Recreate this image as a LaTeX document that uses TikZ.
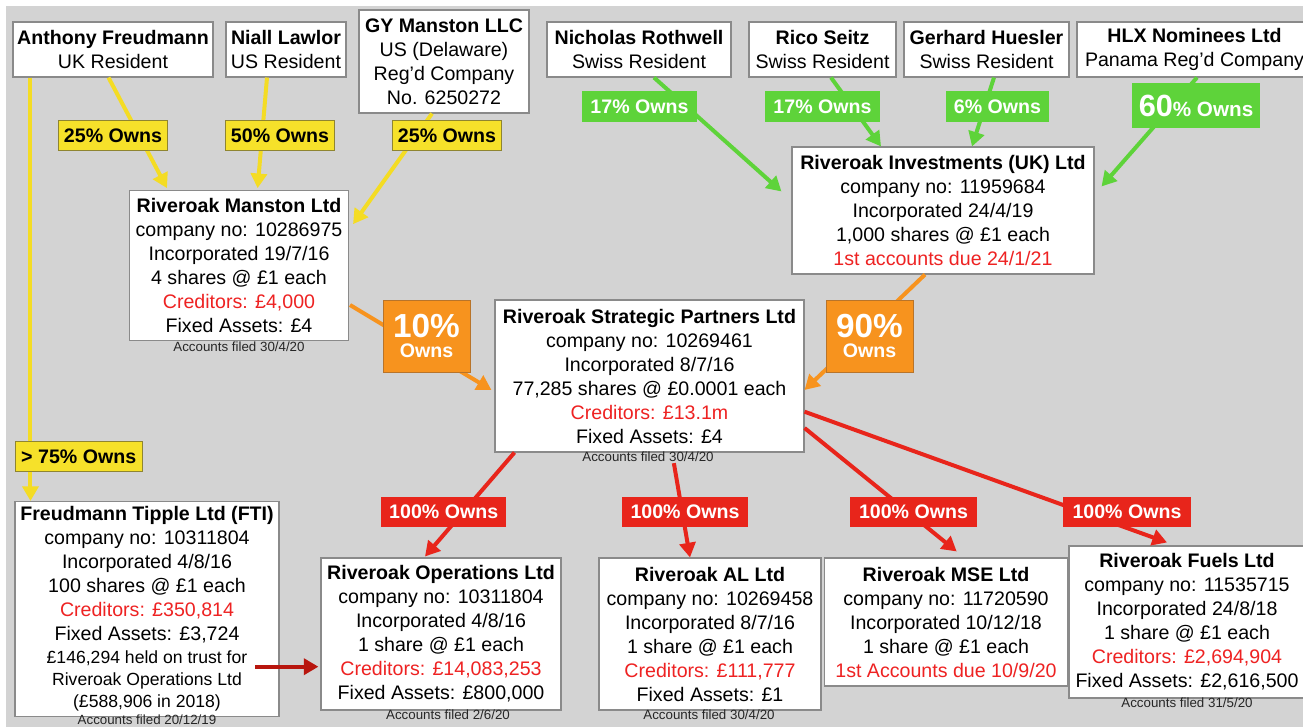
\documentclass[tikz,border=0pt]{standalone}
\usepackage{fontspec}
\setmainfont{Liberation Sans}
\usetikzlibrary{arrows.meta,calc}
\definecolor{bg}{HTML}{D3D3D3}
\definecolor{boxline}{HTML}{8A8A8A}
\definecolor{ylw}{HTML}{F6E12A}
\definecolor{ylwedge}{HTML}{8F8530}
\definecolor{ylwline}{HTML}{F4DC24}
\definecolor{grn}{HTML}{5ED33A}
\definecolor{org}{HTML}{F7931E}
\definecolor{orgedge}{HTML}{B8742A}
\definecolor{rd}{HTML}{E8251B}
\definecolor{drd}{HTML}{B8160E}
\definecolor{redtxt}{HTML}{EE2222}
\newcommand{\rt}[1]{\textcolor{redtxt}{#1}}
\begin{document}
\begin{tikzpicture}[x=0.75pt,y=-0.75pt,
  box/.style 2 args={draw=boxline, line width=0.8pt, fill=white,
    minimum width=#1*0.75pt, minimum height=#2*0.75pt, inner sep=0pt,
    align=center, font=\fontsize{14.7}{18}\selectfont},
  lab/.style 2 args={minimum width=#1*0.75pt, minimum height=#2*0.75pt,
    inner sep=0pt, align=center, font=\bfseries\fontsize{14.7}{17}\selectfont},
  ylab/.style={fill=ylw, draw=ylwedge, line width=0.6pt, text=black},
  glab/.style={fill=grn, text=white},
  olab/.style={fill=org, draw=orgedge, line width=0.6pt, text=white},
  rlab/.style={fill=rd, text=white},
  note/.style={inner sep=0pt, font=\fontsize{10}{12}\selectfont, text=black!85},
  conn/.style={line width=3pt, -{Triangle[length=11pt,width=12pt]}},
  yarr/.style={conn, draw=ylwline, fill=ylwline},
  garr/.style={conn, draw=grn, fill=grn},
  oarr/.style={conn, draw=org, fill=org},
  rarr/.style={conn, draw=rd, fill=rd},
  darr/.style={conn, draw=drd, fill=drd}]
\useasboundingbox (0,0) rectangle (1303,727);
\fill[white] (0,0) rectangle (1303,727);
\fill[bg] (6,6) rectangle (1303,727);

% top row
\node[box={200}{55}] (anth) at (113,49.5) {\textbf{Anthony Freudmann}\\UK Resident};
\node[box={120}{55}] (nia) at (286,49.5) {\textbf{Niall Lawlor}\\US Resident};
\node[box={170}{103}] (gy) at (444,61.5) {\textbf{GY Manston LLC}\\US (Delaware)\\Reg’d Company\\No. 6250272};
\node[box={184}{55}] (rot) at (639,49.5) {\textbf{Nicholas Rothwell}\\Swiss Resident};
\node[box={147}{55}] (ric) at (822.5,49.5) {\textbf{Rico Seitz}\\Swiss Resident};
\node[box={165}{55}] (ger) at (986.5,49.5) {\textbf{Gerhard Huesler}\\Swiss Resident};
\node[box={235}{55}] (hlx) at (1194.5,49.5) {\textbf{HLX Nominees Ltd}\\Panama Reg’d Company};

% companies
\node[box={219}{150}] (man) at (239,265.7) {\textbf{Riveroak Manston Ltd}\\company no: 10286975\\Incorporated 19/7/16\\4 shares @ £1 each\\\rt{Creditors: £4,000}\\Fixed Assets: £4};
\node[box={302}{127}] (inv) at (943,210.5) {\textbf{Riveroak Investments (UK) Ltd}\\company no: 11959684\\Incorporated 24/4/19\\1,000 shares @ £1 each\\\rt{1st accounts due 24/1/21}};
\node[box={309}{152}] (str) at (649.5,376) {\textbf{Riveroak Strategic Partners Ltd}\\company no: 10269461\\Incorporated 8/7/16\\77,285 shares @ £0.0001 each\\\rt{Creditors: £13.1m}\\Fixed Assets: £4};
\node[box={264}{215}] (fti) at (147,609) {\textbf{Freudmann Tipple Ltd (FTI)}\\company no: 10311804\\Incorporated 4/8/16\\100 shares @ £1 each\\\rt{Creditors: £350,814}\\Fixed Assets: £3,724\\[-1pt]{\fontsize{13.2}{16.3}\selectfont £146,294 held on trust for}\\[-1.5pt]{\fontsize{13.2}{16.3}\selectfont Riveroak Operations Ltd}\\[-1.5pt]{\fontsize{13.2}{16.3}\selectfont (£588,906 in 2018)}};
\node[box={240}{152}] (ops) at (441,634) {\textbf{Riveroak Operations Ltd}\\company no: 10311804\\Incorporated 4/8/16\\1 share @ £1 each\\\rt{Creditors: £14,083,253}\\Fixed Assets: £800,000};
\node[box={222}{152}] (al) at (710,634) {\textbf{Riveroak AL Ltd}\\company no: 10269458\\Incorporated 8/7/16\\1 share @ £1 each\\\rt{Creditors: £111,777}\\Fixed Assets: £1};
\node[box={243}{128}] (mse) at (946,622) {\textbf{Riveroak MSE Ltd}\\company no: 11720590\\Incorporated 10/12/18\\1 share @ £1 each\\\rt{1st Accounts due 10/9/20}};
\node[box={236}{152}] (fue) at (1187,622) {\textbf{Riveroak Fuels Ltd}\\company no: 11535715\\Incorporated 24/8/18\\1 share @ £1 each\\\rt{Creditors: £2,694,904}\\Fixed Assets: £2,616,500};

% notes
\node[note] (mann) at (239,347) {Accounts filed 30/4/20};
\node[note] (strn) at (648,457) {Accounts filed 30/4/20};
\node[note] (ftin) at (147,720) {Accounts filed 20/12/19};
\node[note] (opsn) at (448,715) {Accounts filed 2/6/20};
\node[note] (aln) at (709,715) {Accounts filed 30/4/20};
\node[note] (fuen) at (1187,703) {Accounts filed 31/5/20};

% connectors
\draw[yarr] ($(anth.south west)+(18,0)$) -- ($(fti.north west)+(16,0)$);
\draw[yarr] ($(anth.south)+(-4.5,0)$) -- ($(man.north)+(-72,-2)$);
\draw[yarr] ($(nia.south)+(-19,0)$) -- ($(man.north)+(18.6,-2)$);
\draw[yarr] ($(gy.south)+(-12,0)$) -- ($(man.north east)+(4,34)$);
\draw[garr] ($(rot.south)+(15,0)$) -- ($(inv.north west)+(-10,45)$);
\draw[garr] ($(ric.south)+(8.5,0)$) -- ($(inv.north)+(-62,0)$);
\draw[garr] ($(ger.south)+(7.5,0)$) -- ($(inv.north)+(29,0)$);
\draw[garr] ($(hlx.south)+(2.5,0)$) -- ($(inv.north east)+(7,40)$);
\draw[oarr] ($(man.east)+(1,39.3)$) -- ($(str.west)+(-3,14)$);
\draw[oarr] ($(inv.south)+(-18,0)$) -- ($(str.east)+(0,14)$);
\draw[rarr] ($(str.south west)+(20,0)$) -- ($(ops.north)+(-16,-1)$);
\draw[rarr] ($(strn.south east)+(-40,1)$) -- ($(al.north)+(-20,0)$);
\draw[rarr] ($(str.east)+(0,52)$) -- ($(mse.north)+(10.7,-6)$);
\draw[rarr] ($(str.east)+(0,35.7)$) -- ($(fue.north)+(-20,-3)$);
\draw[darr] ($(fti.east)+(-24.5,57.7)$) -- ($(ops.west)+(-2,32.7)$);

% labels
\node[lab={109}{30}, ylab] (y1) at (113,135.7) {25\% Owns};
\node[lab={109}{30}, ylab] (y2) at (280,135.7) {50\% Owns};
\node[lab={109}{30}, ylab] (y3) at (447,135.7) {25\% Owns};
\node[lab={127}{30}, ylab] (y4) at (78.7,456.7) {> 75\% Owns};
\node[lab={115}{31}, glab] (g1) at (639.5,106.5) {17\% Owns};
\node[lab={115}{31}, glab] (g2) at (822.5,106.5) {17\% Owns};
\node[lab={103}{31}, glab] (g3) at (997.5,106.5) {6\% Owns};
\node[lab={128}{45}, glab] (g4) at (1196,105.5) {{\fontsize{23}{24}\selectfont 60}{\fontsize{15.5}{17}\selectfont\% Owns}};
\node[lab={87}{72}, olab] (o1) at (426.5,336) {{\fontsize{25}{26}\selectfont 10\%}\\[-2pt]Owns};
\node[lab={87}{72}, olab] (o2) at (869.5,336) {{\fontsize{25}{26}\selectfont 90\%}\\[-2pt]Owns};
\node[lab={124.5}{30}, rlab] (r1) at (443.7,512) {100\% Owns};
\node[lab={126.5}{30}, rlab] (r2) at (685,512) {100\% Owns};
\node[lab={127}{30}, rlab] (r3) at (913.5,512) {100\% Owns};
\node[lab={127.5}{30}, rlab] (r4) at (1127,512) {100\% Owns};
\end{tikzpicture}
\end{document}
